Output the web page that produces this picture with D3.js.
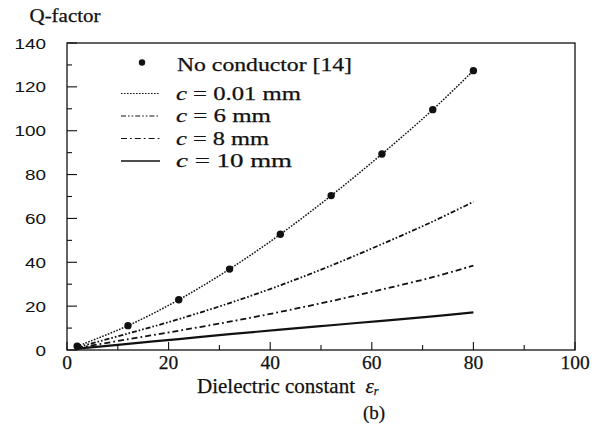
<!DOCTYPE html>
<html>
<head>
<meta charset="utf-8">
<script src="https://cdn.jsdelivr.net/npm/d3@7"></script>
<style>
  html, body { margin: 0; padding: 0; background: #fff; }
  svg { display: block; }
  .serif { font-family: "Liberation Serif", "Times New Roman", serif; fill: #111; stroke: #111; stroke-width: 0.25; }
  .sans { font-family: "Liberation Sans", Arial, sans-serif; fill: #111; }
</style>
</head>
<body>
<svg id="chart" width="592" height="437"></svg>
<script>
// Dielectric constant values at which Q was evaluated
const epsR = [2, 12, 22, 32, 42, 52, 62, 72, 80];

// Q-factor for each conductor size
const qNoConductor = [1.7, 11.1, 22.9, 36.9, 52.8, 70.4, 89.4, 109.6, 127.4];
const qC001 = [1.7, 11.1, 22.9, 36.9, 52.8, 70.4, 89.4, 109.6, 127.4];
const qC6 = [1.2, 7.5, 14.1, 21.4, 29.5, 38.5, 48.3, 58.6, 67.6];
const qC8 = [0.9, 4.9, 8.8, 12.9, 17.4, 22.3, 27.6, 33.2, 38.5];
const qC10 = [0.6, 2.8, 5.0, 7.2, 9.3, 11.3, 13.3, 15.3, 17.2];

const xTicks = [0, 20, 40, 60, 80, 100];
const yTicks = [0, 20, 40, 60, 80, 100, 120, 140];

const svg = d3.select("#chart");
const x = d3.scaleLinear().domain([0, 100]).range([67, 575]);
const y = d3.scaleLinear().domain([0, 140]).range([350, 43]);

// Line styles for the curves
const series = [
  { values: qC001, dash: "1.6,1.4", width: 1.5, label: "= 0.01 mm", lw: 125 },
  { values: qC6, dash: "5,2,1.6,2,1.6,2", width: 1.8, label: "= 6 mm", lw: 95 },
  { values: qC8, dash: "6,3,1.8,3", width: 1.8, label: "= 8 mm", lw: 93 },
  { values: qC10, dash: null, width: 2.2, label: "= 10 mm", lw: 116 }
];

// Frame
const plot = svg.append("g");
plot.append("rect")
  .attr("x", x(0)).attr("y", y(140))
  .attr("width", x(100) - x(0)).attr("height", y(0) - y(140))
  .attr("fill", "none").attr("stroke", "#111").attr("stroke-width", 1.3);

// Inward ticks: majors every 20, minors every 10
d3.range(0, 101, 10).forEach(v => {
  const len = v % 20 === 0 ? 8 : 5;
  plot.append("line")
    .attr("x1", x(v)).attr("x2", x(v))
    .attr("y1", y(0)).attr("y2", y(0) - len)
    .attr("stroke", "#111").attr("stroke-width", 1.1);
});
d3.range(0, 141, 10).forEach(v => {
  const len = v % 20 === 0 ? 10 : 5;
  plot.append("line")
    .attr("x1", x(0)).attr("x2", x(0) + len)
    .attr("y1", y(v)).attr("y2", y(v))
    .attr("stroke", "#111").attr("stroke-width", 1.1);
});

// Tick labels
svg.append("g").selectAll("text").data(yTicks).join("text")
  .attr("class", "sans")
  .attr("font-size", 15.5)
  .attr("text-anchor", "end")
  .attr("transform", d => `translate(46,${y(d) + 5.5}) scale(1.22,1)`)
  .text(d => d);

svg.append("g").selectAll("text").data(xTicks).join("text")
  .attr("class", "serif")
  .attr("font-size", 19.5)
  .attr("text-anchor", "middle")
  .attr("x", d => x(d))
  .attr("y", 369)
  .text(d => d);

// Curves
const line = d3.line()
  .x((d, i) => x(epsR[i]))
  .y(d => y(d))
  .curve(d3.curveCatmullRom.alpha(0.5));

series.forEach(s => {
  plot.append("path")
    .attr("d", line(s.values))
    .attr("fill", "none")
    .attr("stroke", "#111")
    .attr("stroke-width", s.width)
    .attr("stroke-dasharray", s.dash);
});

// Computed points without conductor
plot.selectAll("circle").data(qNoConductor).join("circle")
  .attr("cx", (d, i) => x(epsR[i]))
  .attr("cy", d => y(d))
  .attr("r", 3.7)
  .attr("fill", "#111");

// Legend
const legend = svg.append("g");
legend.append("circle").attr("cx", 142).attr("cy", 62.5).attr("r", 3.2).attr("fill", "#111");
legend.append("text").attr("class", "serif").attr("font-size", 19)
  .attr("x", 177).attr("y", 71)
  .attr("textLength", 175).attr("lengthAdjust", "spacingAndGlyphs")
  .text("No conductor [14]");

const rowY = [93.5, 116, 138.5, 161];
series.forEach((s, i) => {
  legend.append("line")
    .attr("x1", 121).attr("x2", 160)
    .attr("y1", rowY[i]).attr("y2", rowY[i])
    .attr("stroke", "#111")
    .attr("stroke-width", s.dash ? 1.2 : 1.6)
    .attr("stroke-dasharray", s.dash);
  const t = legend.append("text").attr("class", "serif").attr("font-size", 19)
    .attr("x", 176).attr("y", rowY[i] + 6)
    .attr("textLength", s.lw).attr("lengthAdjust", "spacingAndGlyphs");
  t.append("tspan").attr("font-style", "italic").text("c");
  t.append("tspan").text("\u00a0" + s.label);
});

// Axis titles
svg.append("text").attr("class", "serif").attr("font-size", 18)
  .attr("x", 29.5).attr("y", 22)
  .attr("textLength", 71).attr("lengthAdjust", "spacingAndGlyphs")
  .text("Q-factor");

const xt = svg.append("text").attr("class", "serif").attr("font-size", 21)
  .attr("x", 197).attr("y", 393);
xt.append("tspan").text("Dielectric constant\u00a0\u00a0");
xt.append("tspan").attr("font-style", "italic").text("\u03b5");
xt.append("tspan").attr("font-style", "italic").attr("font-size", 12).attr("dy", 2).text("r");

svg.append("text").attr("class", "serif").attr("font-size", 19)
  .attr("text-anchor", "middle")
  .attr("x", 374).attr("y", 419)
  .text("(b)");
</script>
</body>
</html>
